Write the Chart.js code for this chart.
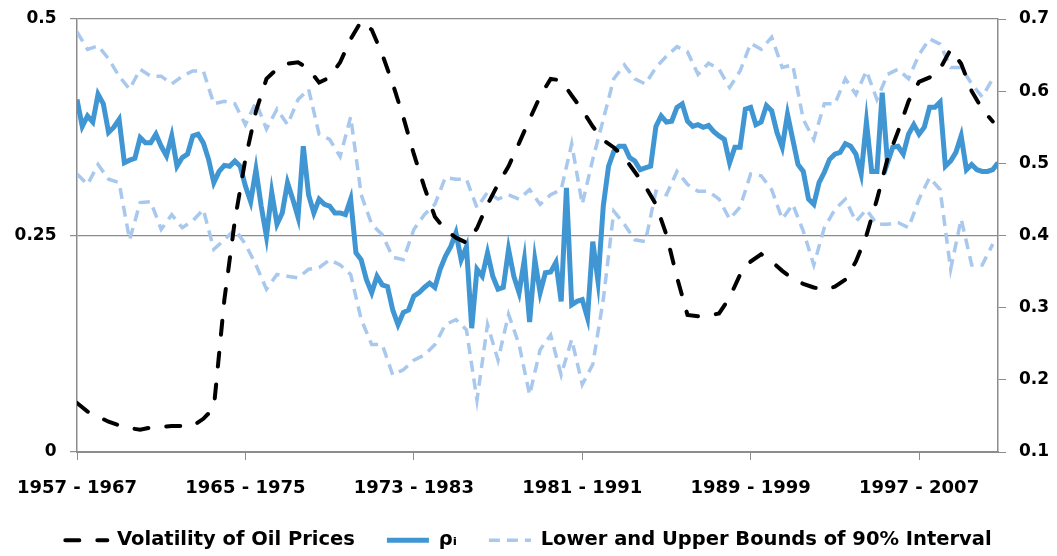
<!DOCTYPE html>
<html>
<head>
<meta charset="utf-8">
<title>Volatility of Oil Prices and rho</title>
<script src="https://cdn.jsdelivr.net/npm/chart.js@4.4.1/dist/chart.umd.min.js"></script>
<style>
    html, body { margin: 0; padding: 0; background: #fff; }
    #wrap { width: 1057px; height: 556px; }
</style>
</head>
<body>
<div id="wrap"><canvas id="chart" width="1057" height="556"></canvas></div>
<script>
// rolling windows, first one starts 1957
const START_YEAR = 1957;
const QUARTER = 0.25;
const HALF_YEAR = 0.5;

const tickYears = [1957, 1965, 1973, 1981, 1989, 1997];
const xTickLabels = ['1957 - 1967', '1965 - 1975', '1973 - 1983', '1981 - 1991', '1989 - 1999', '1997 - 2007'];

// rho_i, quarterly
const rho = [
    0.407, 0.376, 0.388, 0.381, 0.413, 0.402, 0.369, 0.375, 0.384, 0.334,
    0.337, 0.339, 0.363, 0.357, 0.357, 0.367, 0.353, 0.342, 0.365, 0.330,
    0.340, 0.344, 0.365, 0.367, 0.357, 0.338, 0.311, 0.324, 0.331, 0.330,
    0.336, 0.330, 0.307, 0.289, 0.326, 0.284, 0.249, 0.300, 0.263, 0.276,
    0.311, 0.292, 0.271, 0.353, 0.297, 0.276, 0.292, 0.286, 0.284, 0.276,
    0.276, 0.274, 0.292, 0.230, 0.222, 0.199, 0.184, 0.203, 0.193, 0.191,
    0.164, 0.147, 0.161, 0.164, 0.180, 0.184, 0.190, 0.195, 0.190, 0.211,
    0.226, 0.237, 0.253, 0.222, 0.237, 0.143, 0.211, 0.203, 0.230, 0.203,
    0.188, 0.190, 0.234, 0.203, 0.184, 0.222, 0.150, 0.222, 0.184, 0.207,
    0.208, 0.219, 0.174, 0.305, 0.170, 0.174, 0.176, 0.155, 0.243, 0.197,
    0.284, 0.330, 0.347, 0.353, 0.353, 0.340, 0.336, 0.326, 0.328, 0.330,
    0.376, 0.388, 0.381, 0.382, 0.398, 0.402, 0.382, 0.376, 0.378, 0.375,
    0.377, 0.370, 0.365, 0.361, 0.334, 0.352, 0.352, 0.396, 0.398, 0.378,
    0.381, 0.400, 0.394, 0.369, 0.352, 0.390, 0.361, 0.332, 0.324, 0.292,
    0.286, 0.311, 0.323, 0.338, 0.344, 0.346, 0.356, 0.353, 0.344, 0.321,
    0.381, 0.324, 0.324, 0.415, 0.334, 0.352, 0.353, 0.344, 0.367, 0.378,
    0.367, 0.375, 0.398, 0.398, 0.404, 0.330, 0.336, 0.346, 0.365, 0.326,
    0.332, 0.326, 0.324, 0.324, 0.326, 0.334
];

// 90% interval bounds, half-yearly
const upperBound = [
    0.485, 0.465, 0.469, 0.454, 0.434, 0.419, 0.442, 0.434, 0.434, 0.425,
    0.434, 0.440, 0.440, 0.402, 0.405, 0.402, 0.378, 0.404, 0.373, 0.396,
    0.378, 0.407, 0.419, 0.367, 0.361, 0.341, 0.387, 0.297, 0.263, 0.251,
    0.225, 0.222, 0.257, 0.274, 0.286, 0.317, 0.315, 0.315, 0.282, 0.300,
    0.292, 0.297, 0.292, 0.303, 0.286, 0.297, 0.303, 0.356, 0.286, 0.338,
    0.384, 0.431, 0.447, 0.431, 0.425, 0.444, 0.457, 0.468, 0.462, 0.436,
    0.449, 0.442, 0.421, 0.440, 0.472, 0.465, 0.479, 0.444, 0.447, 0.384,
    0.361, 0.402, 0.402, 0.431, 0.413, 0.440, 0.407, 0.436, 0.442, 0.431,
    0.459, 0.477, 0.471, 0.444, 0.444, 0.425, 0.410, 0.431
];
const lowerBound = [
    0.321, 0.309, 0.332, 0.315, 0.311, 0.245, 0.288, 0.289, 0.257, 0.274,
    0.259, 0.267, 0.280, 0.234, 0.245, 0.257, 0.240, 0.216, 0.188, 0.205,
    0.203, 0.201, 0.211, 0.213, 0.222, 0.216, 0.205, 0.153, 0.124, 0.124,
    0.089, 0.095, 0.106, 0.112, 0.124, 0.147, 0.153, 0.141, 0.060, 0.147,
    0.106, 0.159, 0.124, 0.066, 0.118, 0.135, 0.089, 0.130, 0.078, 0.101,
    0.176, 0.278, 0.263, 0.245, 0.243, 0.301, 0.297, 0.324, 0.309, 0.301,
    0.301, 0.292, 0.269, 0.283, 0.321, 0.319, 0.303, 0.269, 0.286, 0.255,
    0.216, 0.259, 0.280, 0.292, 0.266, 0.280, 0.263, 0.263, 0.265, 0.259,
    0.292, 0.317, 0.303, 0.211, 0.269, 0.216, 0.216, 0.240
];

// volatility of oil prices (right axis), half-yearly
const volatility = [
    0.168, 0.156, 0.149, 0.142, 0.137, 0.133, 0.131, 0.134, 0.135, 0.136,
    0.136, 0.136, 0.146, 0.161, 0.311, 0.421, 0.506, 0.572, 0.617, 0.631,
    0.638, 0.640, 0.631, 0.612, 0.619, 0.640, 0.672, 0.697, 0.685, 0.651,
    0.610, 0.564, 0.513, 0.467, 0.426, 0.408, 0.397, 0.390, 0.410, 0.443,
    0.471, 0.496, 0.528, 0.561, 0.593, 0.617, 0.615, 0.594, 0.574, 0.551,
    0.532, 0.522, 0.508, 0.488, 0.468, 0.443, 0.401, 0.342, 0.290, 0.288,
    0.289, 0.292, 0.314, 0.346, 0.364, 0.374, 0.364, 0.351, 0.340, 0.333,
    0.328, 0.325, 0.329, 0.339, 0.364, 0.400, 0.450, 0.506, 0.544, 0.586,
    0.613, 0.619, 0.631, 0.658, 0.638, 0.600, 0.575, 0.558
];

const END_YEAR = START_YEAR + (rho.length - 1) * QUARTER;

const FONT = "'DejaVu Sans', sans-serif";
const GRAY = '#8c8c8c';
const BLUE = 'rgb(64, 150, 210)';
const LIGHT_BLUE = 'rgb(168, 200, 238)';
const OIL_DASH = [14, 18];
const BOUND_DASH = [11, 7];

const toPoints = (values, step) => values.map((v, i) => ({ x: START_YEAR + i * step, y: v }));

// dash also set per segment, so the line is stroked segment by segment
const dashed = pattern => ({ borderDash: pattern, segment: { borderDash: () => pattern } });

const boundStyle = Object.assign({
    yAxisID: 'yLeft',
    borderColor: LIGHT_BLUE,
    borderWidth: 3.5
}, dashed(BOUND_DASH));

new Chart(document.getElementById('chart'), {
    type: 'line',
    data: {
        datasets: [
            Object.assign({
                label: 'Volatility of Oil Prices',
                data: toPoints(volatility, HALF_YEAR),
                yAxisID: 'yRight',
                borderColor: '#000',
                borderWidth: 4,
                borderCapStyle: 'round'
            }, dashed(OIL_DASH)),
            {
                label: 'ρᵢ',
                data: toPoints(rho, QUARTER),
                yAxisID: 'yLeft',
                borderColor: BLUE,
                borderWidth: 5
            },
            Object.assign({ label: 'Lower and Upper Bounds of 90% Interval', data: toPoints(upperBound, HALF_YEAR) }, boundStyle),
            Object.assign({ label: 'Lower bound', data: toPoints(lowerBound, HALF_YEAR) }, boundStyle)
        ]
    },
    options: {
        responsive: false,
        animation: false,
        layout: { padding: { top: 19, right: 0, bottom: -4, left: 0 } },
        elements: { point: { radius: 0 } },
        plugins: {
            tooltip: { enabled: false },
            legend: {
                position: 'bottom',
                labels: {
                    usePointStyle: true,
                    pointStyle: 'line',
                    pointStyleWidth: 42,
                    padding: 32,
                    color: '#000',
                    font: { family: FONT, size: 19.5, weight: 'bold' },
                    // one entry for both bounds, keep the dash of each line
                    generateLabels: chart => Chart.defaults.plugins.legend.labels.generateLabels(chart)
                        .filter(item => item.datasetIndex !== 3)
                        .map(item => {
                            const ds = chart.data.datasets[item.datasetIndex];
                            item.lineDash = ds.borderDash || [];
                            item.lineCap = ds.borderCapStyle || 'butt';
                            return item;
                        })
                }
            }
        },
        scales: {
            x: {
                type: 'linear',
                min: START_YEAR,
                max: END_YEAR,
                afterBuildTicks: scale => {
                    scale.ticks = tickYears.map(v => ({ value: v }));
                },
                afterFit: scale => { scale.height = 46.5; },
                grid: { drawOnChartArea: false, tickLength: 8, color: GRAY },
                border: { color: GRAY, width: 2 },
                ticks: {
                    autoSkip: false,
                    maxRotation: 0,
                    padding: 14,
                    color: '#000',
                    font: { family: FONT, size: 18, weight: 'bold', lineHeight: 1.6 },
                    callback: value => xTickLabels[tickYears.indexOf(value)]
                }
            },
            yLeft: {
                position: 'left',
                min: 0,
                max: 0.5,
                afterFit: scale => { scale.width = 77; },
                grid: { color: GRAY, lineWidth: 1.2, tickLength: 7 },
                border: { color: GRAY, width: 1.5 },
                ticks: {
                    stepSize: 0.25,
                    padding: 13.5,
                    color: '#000',
                    font: { family: FONT, size: 17, weight: 'bold', lineHeight: 0.6 },
                    callback: value => String(+value.toFixed(2))
                }
            },
            yRight: {
                position: 'right',
                min: 0.1,
                max: 0.7,
                afterFit: scale => { scale.width = 59; },
                grid: { drawOnChartArea: false, color: GRAY, tickLength: 8 },
                border: { color: GRAY, width: 1.5 },
                ticks: {
                    stepSize: 0.1,
                    padding: 13,
                    color: '#000',
                    font: { family: FONT, size: 17, weight: 'bold', lineHeight: 0.6 },
                    callback: value => String(+value.toFixed(1))
                }
            }
        }
    }
});
</script>
</body>
</html>
